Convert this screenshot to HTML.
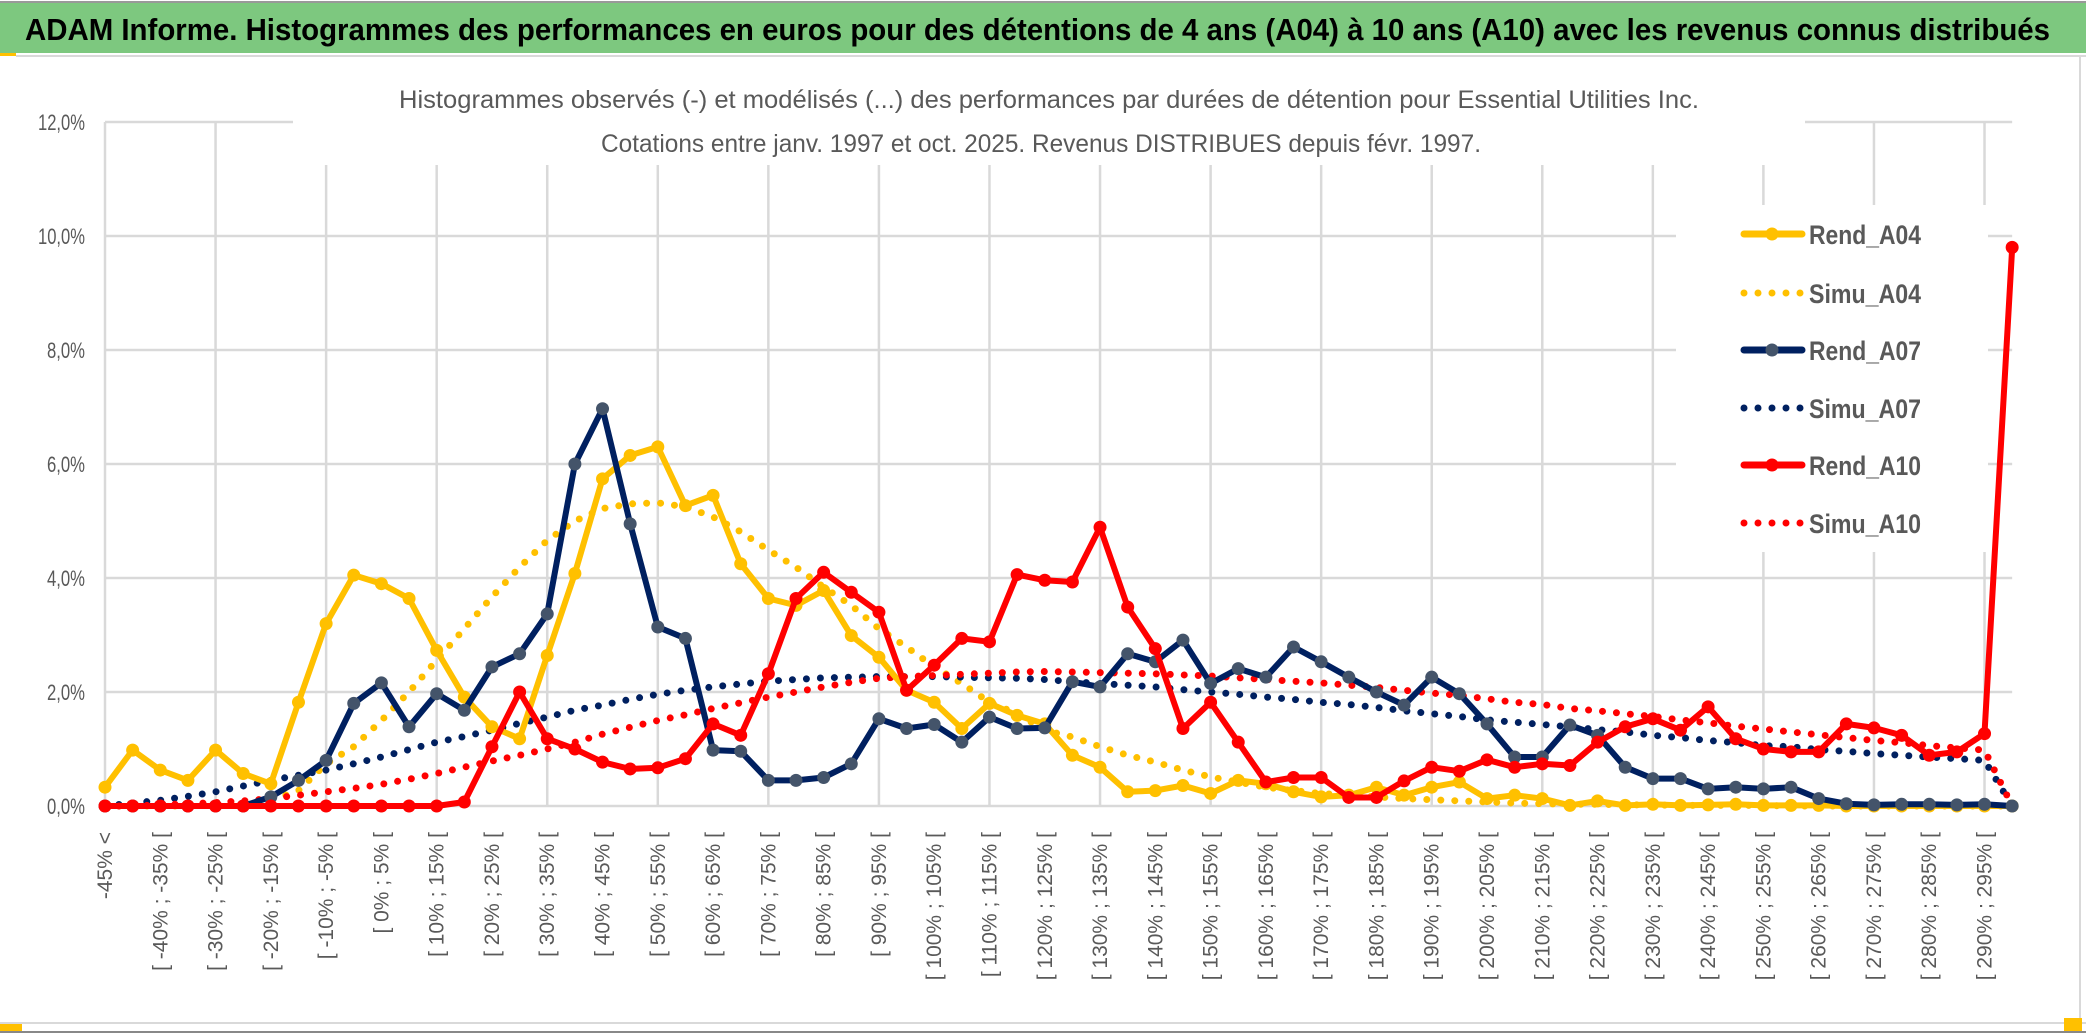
<!DOCTYPE html>
<html><head><meta charset="utf-8"><style>
html,body{margin:0;padding:0;background:#fff;}
svg{display:block;}
text{font-family:"Liberation Sans",sans-serif;}
</style></head><body>
<svg id="chart" width="2086" height="1033" viewBox="0 0 2086 1033" xmlns="http://www.w3.org/2000/svg">
  <rect x="0" y="0" width="2086" height="1033" fill="#fff"/>
  <rect x="0" y="1" width="2086" height="2" fill="#999"/>
  <rect x="0" y="3" width="2086" height="50" fill="#7DC87F"/>
  <rect x="0" y="53" width="16" height="3" fill="#FFC000"/>
  <rect x="16" y="55" width="2070" height="2" fill="#d9d9d9"/>
  <text x="25" y="40" font-size="31" font-weight="bold" fill="#000" textLength="2025" lengthAdjust="spacingAndGlyphs">ADAM Informe. Histogrammes des performances en euros pour des détentions de 4 ans (A04) à 10 ans (A10) avec les revenus connus distribués</text>
  <rect x="2079" y="57" width="2" height="966" fill="#d9d9d9"/>
  <rect x="0" y="1022" width="2086" height="2" fill="#d9d9d9"/>
  <rect x="0" y="1024" width="22" height="7" fill="#FFC000"/>
  <rect x="2064" y="1018" width="18" height="13" fill="#FFC000"/>
  <rect x="0" y="1031" width="2086" height="2" fill="#888"/>
  <g id="grid"></g>
  <rect x="293" y="75" width="1512" height="90" fill="#fff"/>
  <text x="1049" y="108" font-size="25" fill="#595959" text-anchor="middle" textLength="1300" lengthAdjust="spacingAndGlyphs">Histogrammes observés (-) et modélisés (...) des performances par durées de détention pour Essential Utilities Inc.</text>
  <text x="1041" y="152" font-size="25" fill="#595959" text-anchor="middle" textLength="880" lengthAdjust="spacingAndGlyphs">Cotations entre janv. 1997 et oct. 2025. Revenus DISTRIBUES depuis févr. 1997.</text>
  <g id="yaxis"></g>
  <g id="xaxis"></g>
  <g id="series"></g>
  <g id="legend"></g>
</svg>
<script>
const rendA04 = [0.33,0.98,0.63,0.45,0.98,0.57,0.39,1.82,3.2,4.05,3.9,3.64,2.73,1.91,1.39,1.18,2.64,4.08,5.74,6.15,6.3,5.27,5.45,4.25,3.64,3.52,3.78,2.99,2.61,2.03,1.82,1.36,1.8,1.59,1.44,0.89,0.68,0.25,0.27,0.36,0.22,0.45,0.39,0.25,0.16,0.19,0.33,0.19,0.33,0.42,0.13,0.19,0.13,0.01,0.09,0.01,0.03,0.01,0.02,0.03,0.01,0.01,0.01,0,0,0,0,0,0,0];
const simuA04 = [0,0,0,0,0.02,0.05,0.1,0.27,0.74,1.04,1.5,2.0,2.56,3.11,3.67,4.19,4.66,5.0,5.22,5.3,5.32,5.25,5.07,4.81,4.49,4.19,3.84,3.52,3.11,2.79,2.44,2.15,1.82,1.62,1.33,1.21,1.04,0.89,0.77,0.63,0.51,0.42,0.33,0.27,0.22,0.19,0.16,0.13,0.11,0.09,0.07,0.05,0.04,0.03,0.03,0.02,0.02,0.01,0.01,0.01,0.01,0,0,0,0,0,0,0,0,0];
const rendA07 = [0,0,0,0,0,0,0.16,0.45,0.8,1.8,2.16,1.39,1.97,1.68,2.44,2.67,3.37,6.0,6.97,4.95,3.14,2.94,0.98,0.96,0.45,0.45,0.5,0.74,1.53,1.36,1.43,1.12,1.56,1.36,1.37,2.18,2.09,2.67,2.53,2.91,2.15,2.41,2.26,2.79,2.53,2.26,2.0,1.77,2.26,1.97,1.44,0.86,0.86,1.42,1.24,0.68,0.48,0.48,0.3,0.33,0.3,0.33,0.13,0.04,0.02,0.03,0.03,0.02,0.03,0];
const simuA07 = [0,0.05,0.1,0.17,0.25,0.35,0.45,0.54,0.63,0.74,0.86,0.99,1.12,1.22,1.33,1.45,1.56,1.68,1.77,1.87,1.96,2.03,2.09,2.14,2.19,2.22,2.25,2.26,2.27,2.27,2.27,2.26,2.25,2.24,2.22,2.18,2.15,2.12,2.09,2.04,2.0,1.96,1.91,1.87,1.82,1.78,1.73,1.67,1.62,1.57,1.51,1.47,1.43,1.39,1.34,1.3,1.24,1.2,1.15,1.11,1.06,1.04,0.99,0.96,0.92,0.89,0.86,0.83,0.8,0];
const rendA10 = [0,0,0,0,0,0,0,0,0,0,0,0,0,0.07,1.04,2.0,1.18,1.0,0.77,0.65,0.67,0.83,1.44,1.24,2.32,3.64,4.1,3.75,3.4,2.03,2.47,2.94,2.88,4.06,3.96,3.93,4.89,3.49,2.76,1.36,1.82,1.12,0.42,0.5,0.5,0.15,0.15,0.44,0.68,0.61,0.81,0.68,0.74,0.71,1.12,1.39,1.53,1.33,1.74,1.18,1.0,0.95,0.95,1.44,1.37,1.24,0.89,0.95,1.27,9.8];
const simuA10 = [0,0,0.02,0.04,0.06,0.09,0.13,0.19,0.25,0.31,0.38,0.47,0.57,0.68,0.79,0.89,1.0,1.12,1.26,1.38,1.5,1.6,1.71,1.81,1.91,2.0,2.09,2.17,2.24,2.27,2.29,2.31,2.33,2.35,2.36,2.35,2.34,2.33,2.32,2.3,2.28,2.25,2.22,2.19,2.16,2.12,2.08,2.03,1.98,1.94,1.88,1.82,1.78,1.71,1.67,1.62,1.57,1.51,1.46,1.4,1.35,1.3,1.25,1.2,1.15,1.11,1.06,1.02,0.98,0];
const yTicks = [0,2,4,6,8,10,12];
const yTickLabels = ["0,0%","2,0%","4,0%","6,0%","8,0%","10,0%","12,0%"];
const seriesNames = ["Rend_A04","Simu_A04","Rend_A07","Simu_A07","Rend_A10","Simu_A10"];

const categories = ["-45% <"];
for (let k = 0; k < 69; k++) {
  const a = -45 + 5*k, b = a + 5;
  categories.push("[ " + a + "% ; " + b + "% [");
}

const NS = "http://www.w3.org/2000/svg";
const X0 = 105, STEP = 27.64, Y0 = 806, PXPER = 57;
function xs(i){ return X0 + STEP*i; }
function ys(v){ return Y0 - v*PXPER; }
function mk(tag, attrs, parent){
  const e = document.createElementNS(NS, tag);
  for (const k in attrs) e.setAttribute(k, attrs[k]);
  parent.appendChild(e);
  return e;
}
const grid = document.getElementById('grid');
const plotRight = xs(categories.length - 1);
yTicks.forEach((t) => {
  const l = mk('line', {x1: X0, x2: plotRight, y1: ys(t), y2: ys(t), stroke: '#d9d9d9', 'stroke-width': 2.5}, grid);
  
  
});
for (let i = 0; i < categories.length; i += 4) {
  const l = mk('line', {x1: xs(i), x2: xs(i), y1: ys(12), y2: ys(0), stroke: '#d9d9d9', 'stroke-width': 2.5}, grid);
  
  
}
const yaxis = document.getElementById('yaxis');
yTicks.forEach((t, k) => {
  const tx = mk('text', {x: 85, y: ys(t) + 8, 'font-size': 22, fill: '#595959', 'text-anchor': 'end', textLength: (yTickLabels[k].length > 4 ? 47 : 38), lengthAdjust: 'spacingAndGlyphs'}, yaxis);
  tx.textContent = yTickLabels[k];
  
  
});
const xaxis = document.getElementById('xaxis');
categories.forEach((c, i) => {
  if (i % 2) return;
  const x = xs(i) + 7, y = 832;
  const tx = mk('text', {x: x, y: y, 'font-size': 21, fill: '#595959', 'text-anchor': 'end', transform: 'rotate(-90 ' + x + ' ' + y + ')'}, xaxis);
  tx.textContent = c;
  
  
});

const series = document.getElementById('series');
function pts(arr){ return arr.map((v, i) => xs(i).toFixed(1) + ',' + ys(v).toFixed(1)).join(' '); }
function dotted(arr, color, name){
  const p = mk('polyline', {points: pts(arr), fill: 'none', stroke: color, 'stroke-width': 7, 'stroke-linecap': 'round', 'stroke-dasharray': '0 14'}, series);
  
  
}
function solid(arr, color, mcolor, name){
  const g = mk('g', {}, series);
  
  
  const p = mk('polyline', {points: pts(arr), fill: 'none', stroke: color, 'stroke-width': 6, 'stroke-linejoin': 'round'}, g);
  
  
  arr.forEach((v, i) => {
    const c = mk('circle', {cx: xs(i), cy: ys(v), r: 6.5, fill: mcolor}, g);
    
    
  });
}
dotted(simuA04, '#FFC000', 'simu-a04-line');
dotted(simuA07, '#002060', 'simu-a07-line');
dotted(simuA10, '#FF0000', 'simu-a10-line');
solid(rendA04, '#FFC000', '#FFC000', 'rend-a04');
solid(rendA07, '#002060', '#44546A', 'rend-a07');
solid(rendA10, '#FF0000', '#FF0000', 'rend-a10');

const legend = document.getElementById('legend');
const lb = mk('rect', {x: 1676, y: 205, width: 312, height: 347, fill: '#fff'}, legend);


const legColors = ['#FFC000','#FFC000','#002060','#002060','#FF0000','#FF0000'];
const legMarker = ['#FFC000',null,'#44546A',null,'#FF0000',null];
const legY = [234,293,350,408,465,523];
seriesNames.forEach((n, k) => {
  const g = mk('g', {}, legend);
  
  
  const y = legY[k];
  if (legMarker[k]) {
    mk('line', {x1: 1744, x2: 1802, y1: y, y2: y, stroke: legColors[k], 'stroke-width': 7, 'stroke-linecap': 'round'}, g);
    mk('circle', {cx: 1772, cy: y, r: 6.5, fill: legMarker[k]}, g);
  } else {
    mk('line', {x1: 1744, x2: 1802, y1: y, y2: y, stroke: legColors[k], 'stroke-width': 7, 'stroke-linecap': 'round', 'stroke-dasharray': '0 14'}, g);
  }
  const t = mk('text', {x: 1809, y: y + 10, 'font-size': 27, 'font-weight': 'bold', fill: '#595959', textLength: 112, lengthAdjust: 'spacingAndGlyphs'}, g);
  t.textContent = n;
  
  
});
</script>
</body></html>
